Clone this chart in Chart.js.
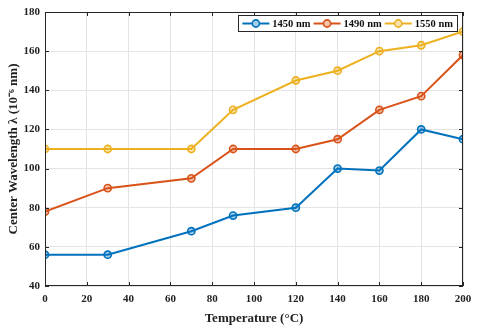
<!DOCTYPE html>
<html>
<head>
<meta charset="utf-8">
<script src="https://cdn.jsdelivr.net/npm/chart.js@4/dist/chart.umd.min.js"></script>
<style>
html,body{margin:0;padding:0;background:#fff;}
#wrap{width:480px;height:330px;position:relative;}
</style>
</head>
<body>
<div id="wrap"><canvas id="c" width="480" height="330"></canvas></div>
<script>
const temperatures = [0, 30, 70, 90, 120, 140, 160, 180, 200];
const series1450 = [56, 56, 68, 76, 80, 100, 99, 120, 115];
const series1490 = [78, 90, 95, 110, 110, 115, 130, 137, 158];
const series1550 = [110, 110, 110, 130, 145, 150, 160, 163, 170];
const seriesLabels = ['1450 nm', '1490 nm', '1550 nm'];
const xTitle = 'Temperature (°C)';
const yTitle = 'Center Wavelength λ (10⁻⁶ nm)';

const colors = ['#0072BD', '#D95319', '#EDB120'];
const fills = ['rgba(0,114,189,0.35)', 'rgba(217,83,25,0.35)', 'rgba(237,177,32,0.35)'];
const FONT = "'Liberation Serif', 'Times New Roman', serif";

function mk(label, vals, i) {
  return {
    label: label,
    data: temperatures.map((t, k) => ({x: t, y: vals[k]})),
    borderColor: colors[i],
    backgroundColor: fills[i],
    pointBackgroundColor: fills[i],
    pointBorderColor: colors[i],
    pointBorderWidth: 1.6,
    pointRadius: 3.6,
    borderWidth: 2,
    tension: 0
  };
}

const frame = {
  id: 'frame',
  afterDraw(chart) {
    const {ctx, chartArea: a, scales} = chart;
    ctx.save();
    ctx.strokeStyle = '#262626';
    ctx.lineWidth = 1;
    ctx.strokeRect(a.left + 0.5, a.top + 0.5, a.right - a.left - 1, a.bottom - a.top - 1);
    const L = 4;
    ctx.beginPath();
    scales.x.ticks.forEach(t => {
      const px = Math.round(scales.x.getPixelForValue(t.value)) + 0.5;
      ctx.moveTo(px, a.bottom); ctx.lineTo(px, a.bottom - L);
      ctx.moveTo(px, a.top); ctx.lineTo(px, a.top + L);
    });
    scales.y.ticks.forEach(t => {
      const py = Math.round(scales.y.getPixelForValue(t.value)) + 0.5;
      ctx.moveTo(a.left, py); ctx.lineTo(a.left + L, py);
      ctx.moveTo(a.right, py); ctx.lineTo(a.right - L, py);
    });
    ctx.stroke();

    // legend
    const ds = chart.data.datasets;
    ctx.font = 'bold 10.5px ' + FONT;
    const segW = 27, gap = 3, itemGap = 3, pad = 4;
    let widths = ds.map(d => segW + gap + ctx.measureText(d.label).width);
    let total = widths.reduce((s, w) => s + w, 0) + itemGap * (ds.length - 1) + pad * 2;
    const bh = 16;
    const bx = a.right - 6 - total, by = a.top + 3;
    ctx.fillStyle = '#fff';
    ctx.fillRect(bx, by, total, bh);
    ctx.strokeStyle = '#262626';
    ctx.lineWidth = 1;
    ctx.strokeRect(Math.round(bx) + 0.5, by + 0.5, Math.round(total), bh);
    let x = bx + pad;
    const cy = by + bh / 2 + 0.5;
    ds.forEach((d, i) => {
      ctx.strokeStyle = d.borderColor;
      ctx.lineWidth = 2;
      ctx.beginPath(); ctx.moveTo(x, cy); ctx.lineTo(x + segW, cy); ctx.stroke();
      ctx.beginPath(); ctx.arc(x + segW / 2, cy, 3.6, 0, Math.PI * 2);
      ctx.fillStyle = '#fff'; ctx.fill();
      ctx.fillStyle = d.pointBackgroundColor; ctx.fill();
      ctx.lineWidth = 1.6; ctx.stroke();
      ctx.fillStyle = '#111';
      ctx.textBaseline = 'middle';
      ctx.textAlign = 'left';
      ctx.fillText(d.label, x + segW + gap, cy + 0.5);
      x += widths[i] + itemGap;
    });
    ctx.restore();
  }
};

new Chart(document.getElementById('c'), {
  type: 'line',
  data: {
    datasets: [
      mk(seriesLabels[0], series1450, 0),
      mk(seriesLabels[1], series1490, 1),
      mk(seriesLabels[2], series1550, 2)
    ]
  },
  options: {
    responsive: false,
    animation: false,
    layout: {padding: {top: 12, right: 17, left: 0, bottom: 0}},
    plugins: {legend: {display: false}, tooltip: {enabled: false}},
    scales: {
      x: {
        type: 'linear', min: 0, max: 200,
        ticks: {stepSize: 20, color: '#222', font: {family: FONT, weight: 'bold', size: 11}, padding: 7, maxRotation: 0},
        grid: {color: '#e4e4e4', drawTicks: false},
        border: {display: false},
        title: {display: true, text: xTitle, color: '#222', font: {family: FONT, weight: 'bold', size: 13}, padding: {top: 2, bottom: 4}},
        afterFit(s) { s.height = 44; }
      },
      y: {
        min: 40, max: 180,
        ticks: {stepSize: 20, color: '#222', font: {family: FONT, weight: 'bold', size: 11}, padding: 5},
        grid: {color: '#e4e4e4', drawTicks: false},
        border: {display: false},
        title: {display: true, text: yTitle, color: '#222', font: {family: FONT, weight: 'bold', size: 13}, padding: {top: 6, bottom: 0}},
        afterFit(s) { s.width = 45; }
      }
    }
  },
  plugins: [frame]
});
</script>
</body>
</html>
